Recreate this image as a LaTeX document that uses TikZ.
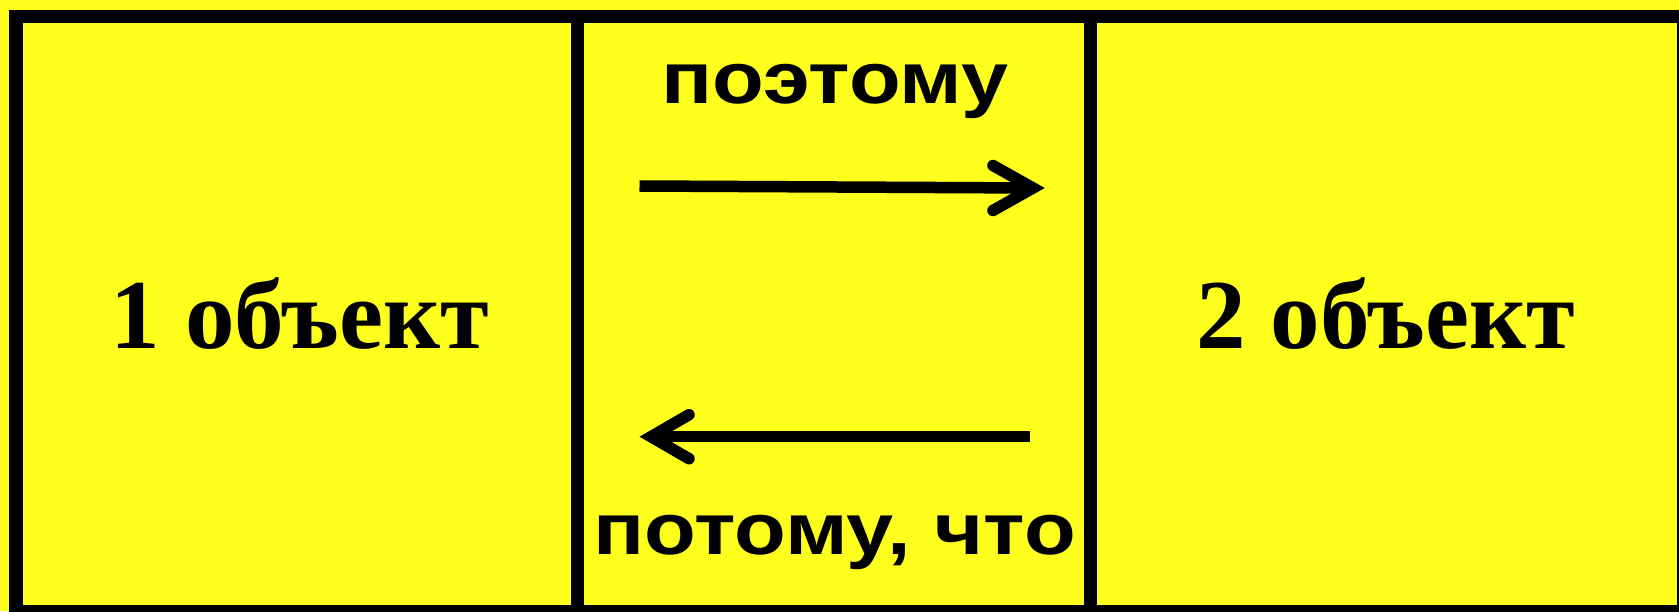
\documentclass[tikz,border=0pt]{standalone}
\usepackage{fontspec}
\setmainfont{Liberation Serif}
\setsansfont{Liberation Sans}
\usetikzlibrary{calc}
\definecolor{bgyellow}{RGB}{255,255,30}
\tikzset{
  frame/.style={draw=black, line width=13.5pt},
  divider/.style={draw=black, line width=13pt},
  shaft/.style={draw=black, line width=11.5pt},
  head/.style={draw=black, line width=11.5pt, line cap=round, line join=miter},
  objlabel/.style={font=\fontsize{99}{99}\selectfont\bfseries, inner sep=0pt, anchor=base},
  arrlabel/.style={font=\fontsize{73}{73}\selectfont\sffamily\bfseries, inner sep=0pt, anchor=base, xscale=1.16}
}
\begin{document}
\begin{tikzpicture}[x=1pt,y=1pt]
\useasboundingbox (0,0) rectangle (1679,611);
\clip (0,0) rectangle (1679,611);
\fill[bgyellow] (0,0) rectangle (1679,611);
\draw[frame] (16,-0.5) rectangle (1683.5,594.7);
\draw[divider] (577.3,595) -- (577.3,-5);
\draw[divider] (1090,595) -- (1090,-5);
\node[objlabel] (obj1) at (300,262) {1 объект};
\node[objlabel] (obj2) at (1385.5,262) {2 объект};
\node[arrlabel] (top) at (835,507) {поэтому};
\node[arrlabel] (bot) at (834.7,56.7) {потому, что};
% right arrow
\coordinate (ra) at (639.5,425);
\coordinate (rt) at (1033,423);
\draw[shaft] (ra) -- (rt);
\draw[head] ($(rt)+(-40,22.5)$) -- (rt) -- ($(rt)+(-40,-22.5)$);
% left arrow
\coordinate (la) at (1030,174.3);
\coordinate (lt) at (651,174.3);
\draw[shaft] (la) -- (lt);
\draw[head] ($(lt)+(38,22)$) -- (lt) -- ($(lt)+(38,-22)$);
\end{tikzpicture}
\end{document}
